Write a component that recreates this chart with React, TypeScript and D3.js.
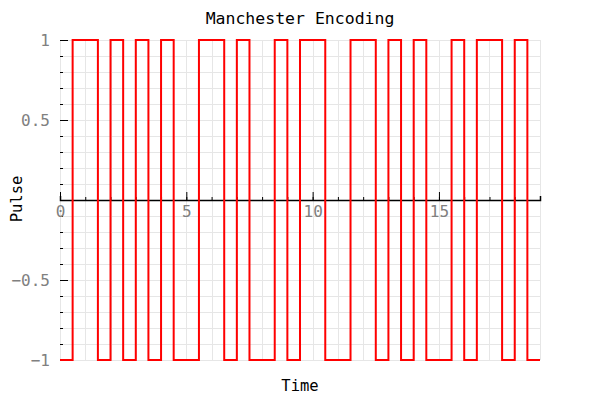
import React, { useRef, useEffect } from 'react';
import * as d3 from 'd3';

// half-bit boundaries (time) and the pulse level that starts there
const halfBitTimes = [
  0, 0.5, 1, 1.5, 2, 2.5, 3, 3.5, 4, 4.5, 5, 5.5, 6, 6.5, 7, 7.5, 8, 8.5, 9, 9.5,
  10, 10.5, 11, 11.5, 12, 12.5, 13, 13.5, 14, 14.5, 15, 15.5, 16, 16.5, 17, 17.5, 18, 18.5, 19,
];
const pulseLevels = [
  -1, 1, 1, -1, 1, -1, 1, -1, 1, -1, -1, 1, 1, -1, 1, -1, -1, 1, -1, 1,
  1, -1, -1, 1, 1, -1, 1, -1, 1, -1, -1, 1, -1, 1, 1, -1, 1, -1, -1,
];
const xMajorTicks = [0, 5, 10, 15];
const xMinorTicks = [0, 1, 2, 3, 4, 5, 6, 7, 8, 9, 10, 11, 12, 13, 14, 15, 16, 17, 18, 19];
const yMajorTicks = [-1, -0.5, 0.5, 1];
const yMinorTicks = [-1, -0.9, -0.8, -0.7, -0.6, -0.5, -0.4, -0.3, -0.2, -0.1, 0, 0.1, 0.2, 0.3, 0.4, 0.5, 0.6, 0.7, 0.8, 0.9, 1];

const FONT = '"DejaVu Sans Mono", "Liberation Mono", monospace';

function ManchesterChart() {
  const ref = useRef<SVGSVGElement>(null);

  useEffect(() => {
    const svg = d3.select(ref.current);
    svg.selectAll('*').remove();

    const margin = { top: 40, right: 60, bottom: 40, left: 60 };
    const width = 600 - margin.left - margin.right;
    const height = 400 - margin.top - margin.bottom;

    const x = d3.scaleLinear().domain([0, 19]).range([0, width]);
    const y = d3.scaleLinear().domain([-1, 1]).range([height, 0]);

    const g = svg.append('g').attr('transform', `translate(${margin.left},${margin.top})`);

    // grid
    g.append('g')
      .selectAll('line')
      .data(xMinorTicks)
      .enter().append('line')
        .attr('x1', d => Math.round(x(d)) + 0.5)
        .attr('x2', d => Math.round(x(d)) + 0.5)
        .attr('y1', 0)
        .attr('y2', height)
        .attr('stroke', '#e6e6e6');

    g.append('g')
      .selectAll('line')
      .data(yMinorTicks)
      .enter().append('line')
        .attr('x1', 0)
        .attr('x2', width)
        .attr('y1', d => Math.round(y(d)) + 0.5)
        .attr('y2', d => Math.round(y(d)) + 0.5)
        .attr('stroke', '#e6e6e6');

    // y axis ticks (pointing inward)
    g.append('g')
      .call(d3.axisLeft(y).tickValues(yMinorTicks).tickSize(-3).tickFormat(() => ''))
      .call(a => a.select('.domain').remove());

    const yAxis = g.append('g')
      .call(d3.axisLeft(y).tickValues(yMajorTicks).tickSize(-8).tickPadding(10).tickFormat(d3.format('')))
      .call(a => a.select('.domain').remove());
    yAxis.selectAll('text')
      .attr('fill', '#808080')
      .style('font-family', FONT)
      .style('font-size', '16px');

    // x axis at y = 0
    g.append('g')
      .attr('transform', `translate(0,${y(0)})`)
      .call(d3.axisBottom(x).tickValues(xMinorTicks).tickSize(-3).tickFormat(() => ''))
      .call(a => a.select('.domain').remove());

    const xAxis = g.append('g')
      .attr('transform', `translate(0,${y(0)})`)
      .call(d3.axisBottom(x).tickValues(xMajorTicks).tickSize(-8).tickSizeOuter(-4).tickPadding(6));
    xAxis.select('.domain').attr('stroke', '#000').attr('stroke-width', 1.5);
    xAxis.selectAll('text')
      .attr('fill', '#808080')
      .style('font-family', FONT)
      .style('font-size', '16px');

    // signal
    const line = d3.line<number>()
      .x((d, i) => x(halfBitTimes[i]))
      .y(d => y(d))
      .curve(d3.curveStepAfter);

    g.append('path')
      .datum(pulseLevels)
      .attr('fill', 'none')
      .attr('stroke', '#ff0000')
      .attr('stroke-width', 2)
      .attr('d', line);

    // titles
    svg.append('text')
      .attr('x', 300)
      .attr('y', 24)
      .attr('text-anchor', 'middle')
      .style('font-family', FONT)
      .style('font-size', '16.5px')
      .text('Manchester Encoding');

    svg.append('text')
      .attr('x', 300)
      .attr('y', 391)
      .attr('text-anchor', 'middle')
      .style('font-family', FONT)
      .style('font-size', '15.5px')
      .text('Time');

    svg.append('text')
      .attr('transform', 'translate(22,199) rotate(-90)')
      .attr('text-anchor', 'middle')
      .style('font-family', FONT)
      .style('font-size', '15.5px')
      .text('Pulse');
  }, []);

  return <svg ref={ref} width={600} height={400} style={{ position: 'absolute', left: 0, top: 0, background: '#fff' }}></svg>;
}

export default function App() {
  return <ManchesterChart />;
}
